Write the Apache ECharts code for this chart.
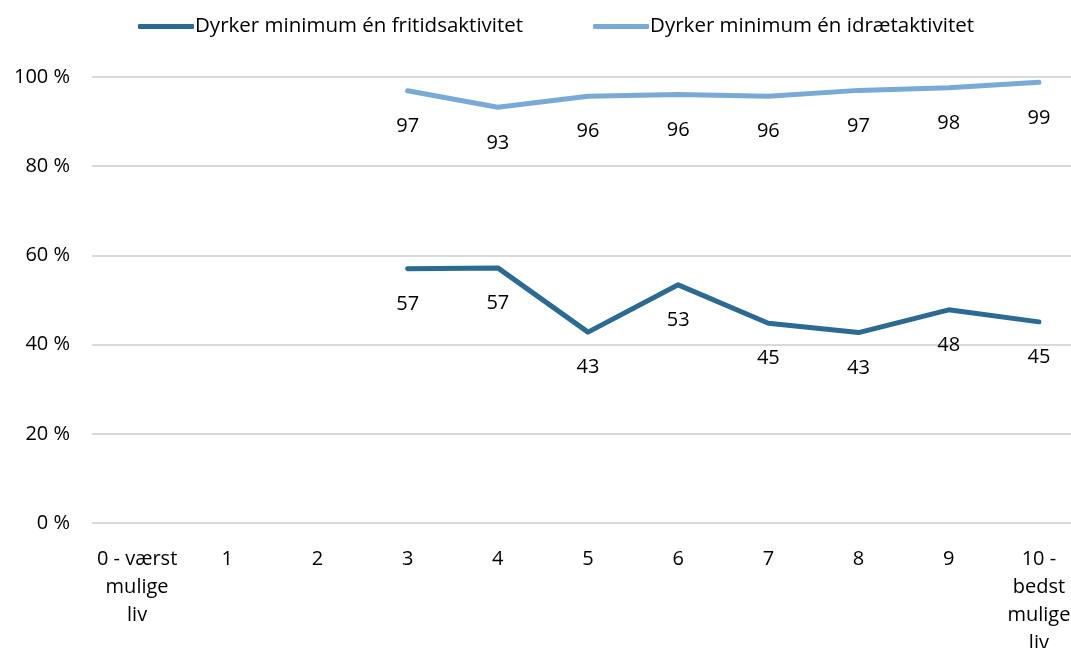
<!DOCTYPE html>
<html>
<head>
<meta charset="utf-8">
<script src="https://cdn.jsdelivr.net/npm/echarts@6/dist/echarts.min.js"></script>
<style>
html,body{margin:0;padding:0;background:#fff;}
#chart{width:1071px;height:648px;}
</style>
</head>
<body>
<div id="chart"></div>
<script>
var categories = ['0 - værst\nmulige\nliv', '1', '2', '3', '4', '5', '6', '7', '8', '9', '10 -\nbedst\nmulige\nliv'];
var fritid = [null, null, null, 57.0, 57.2, 42.8, 53.4, 44.8, 42.7, 47.8, 45.1];
var idraet = [null, null, null, 96.9, 93.2, 95.7, 96.1, 95.7, 97.0, 97.6, 98.8];
var yTicks = [0, 20, 40, 60, 80, 100];

var FONT = 'Open Sans';
var DARK = '#2b6a93';
var LIGHT = '#78aad7';
var chart = echarts.init(document.getElementById('chart'));

var option = {
    animation: false,
    textStyle: { fontFamily: FONT },
    legend: {
        top: 11,
        left: 133,
        itemWidth: 56,
        itemHeight: 5,
        itemGap: 70,
        icon: 'roundRect',
        textStyle: { fontSize: 20.5, color: '#000', fontFamily: FONT, padding: [0, 0, 0, -4] },
        data: [
            { name: 'Dyrker minimum én fritidsaktivitet', itemStyle: { color: DARK } },
            { name: 'Dyrker minimum én idrætaktivitet', itemStyle: { color: LIGHT } }
        ]
    },
    grid: { left: 92, top: 77, width: 992, height: 446, outerBoundsMode: 'none', containLabel: false },
    xAxis: {
        type: 'category',
        data: categories,
        boundaryGap: true,
        axisLine: { show: false },
        axisTick: { show: false },
        axisLabel: { fontSize: 20, color: '#000', lineHeight: 28, margin: 22, interval: 0, fontFamily: FONT }
    },
    yAxis: {
        type: 'value',
        min: 0,
        max: 100,
        interval: 20,
        axisLine: { show: false },
        axisTick: { show: false },
        splitLine: { lineStyle: { color: '#d9d9d9', width: 2 } },
        axisLabel: {
            fontSize: 20, color: '#000', margin: 22, fontFamily: FONT,
            formatter: function (v) { return yTicks.indexOf(v) >= 0 ? v + ' %' : ''; }
        }
    },
    series: [
        {
            name: 'Dyrker minimum én fritidsaktivitet',
            type: 'line',
            data: fritid,
            symbol: 'circle',
            symbolSize: 1,
            showSymbol: true,
            lineStyle: { color: DARK, width: 5, cap: 'round', join: 'round' },
            itemStyle: { color: 'rgba(0,0,0,0)' },
            label: {
                show: true, position: 'bottom', distance: 25, fontSize: 20, color: '#000', fontFamily: FONT,
                formatter: function (p) { return Math.round(p.value); }
            }
        },
        {
            name: 'Dyrker minimum én idrætaktivitet',
            type: 'line',
            data: idraet,
            symbol: 'circle',
            symbolSize: 1,
            showSymbol: true,
            lineStyle: { color: LIGHT, width: 5, cap: 'round', join: 'round' },
            itemStyle: { color: 'rgba(0,0,0,0)' },
            label: {
                show: true, position: 'bottom', distance: 25, fontSize: 20, color: '#000', fontFamily: FONT,
                formatter: function (p) { return Math.round(p.value); }
            }
        }
    ]
};

chart.setOption(option);
window.onresize = chart.resize;
</script>
</body>
</html>
